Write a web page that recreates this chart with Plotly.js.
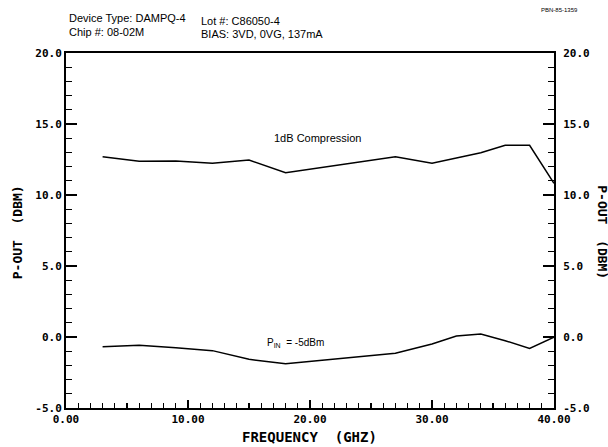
<!DOCTYPE html>
<html>
<head>
<meta charset="utf-8">
<script src="https://cdn.plot.ly/plotly-3.0.1.min.js"></script>
<style>html,body{margin:0;padding:0;background:#fff;}#chart{width:608px;height:447px;}</style>
</head>
<body>
<div id="chart"></div>
<script>
// Frequency (GHz)
const freqComp = [3, 6, 9, 12, 15, 18, 27, 30, 34, 36, 38, 40];
const pout1dB  = [12.70, 12.37, 12.39, 12.23, 12.46, 11.57, 12.70, 12.23, 12.98, 13.50, 13.50, 10.82];

const freqLin  = [3, 6, 9, 12, 15, 18, 27, 30, 32, 34, 36, 38, 40];
const poutLin  = [-0.68, -0.58, -0.75, -0.96, -1.57, -1.88, -1.15, -0.49, 0.07, 0.21, -0.26, -0.80, -0.02];

const yTicks = [-5, 0, 5, 10, 15, 20];
const xTicks = [0, 10, 20, 30, 40];

const monoBold = {family: 'DejaVu Sans Mono', size: 11, color: '#000', weight: 'bold'};
const sans = {family: 'Liberation Sans, Arial', size: 11, color: '#000'};

const traces = [
  {x: freqComp, y: pout1dB, type: 'scatter', mode: 'lines', line: {color: '#000', width: 1.5}, showlegend: false, hoverinfo: 'skip'},
  {x: freqLin, y: poutLin, type: 'scatter', mode: 'lines', line: {color: '#000', width: 1.5}, showlegend: false, hoverinfo: 'skip'},
  {x: freqLin, y: poutLin, yaxis: 'y2', type: 'scatter', mode: 'lines', line: {color: 'rgba(0,0,0,0)', width: 0}, showlegend: false, hoverinfo: 'skip'}
];

const layout = {
  width: 608, height: 447,
  margin: {l: 66, r: 54, t: 53, b: 39},
  paper_bgcolor: '#fff', plot_bgcolor: '#fff',
  showlegend: false,
  xaxis: {
    range: [0, 40], tickvals: xTicks, ticktext: xTicks.map(v => v.toFixed(2)),
    ticks: 'inside', ticklen: 8, tickwidth: 1.5, tickcolor: '#000',
    minor: {dtick: 1, ticks: 'inside', ticklen: 5, tickwidth: 1.2, tickcolor: '#000', showgrid: false},
    showline: true, linecolor: '#000', linewidth: 2, mirror: true,
    showgrid: false, zeroline: false, tickfont: monoBold
  },
  yaxis: {
    range: [-5, 20], tickvals: yTicks, ticktext: yTicks.map(v => v.toFixed(1)),
    ticks: 'inside', ticklen: 11, tickwidth: 1.5, tickcolor: '#000',
    minor: {dtick: 1, ticks: 'inside', ticklen: 6, tickwidth: 1.2, tickcolor: '#000', showgrid: false},
    showline: true, linecolor: '#000', linewidth: 2,
    showgrid: false, zeroline: false, tickfont: monoBold
  },
  yaxis2: {
    overlaying: 'y', side: 'right', anchor: 'x',
    range: [-5, 20], tickvals: yTicks, ticktext: yTicks.map(v => v.toFixed(1)),
    ticks: 'inside', ticklen: 11, tickwidth: 1.5, tickcolor: '#000',
    minor: {dtick: 1, ticks: 'inside', ticklen: 6, tickwidth: 1.2, tickcolor: '#000', showgrid: false},
    showline: true, linecolor: '#000', linewidth: 2, ticklabelstandoff: 5,
    showgrid: false, zeroline: false, tickfont: monoBold
  },
  annotations: [
    {text: 'Device Type: DAMPQ-4', xref: 'paper', yref: 'paper', x: 0, y: 1, xshift: 1, yshift: 35, xanchor: 'left', yanchor: 'middle', showarrow: false, font: sans},
    {text: 'Chip #: 08-02M', xref: 'paper', yref: 'paper', x: 0, y: 1, xshift: 1, yshift: 21, xanchor: 'left', yanchor: 'middle', showarrow: false, font: sans},
    {text: 'Lot #: C86050-4', xref: 'paper', yref: 'paper', x: 0, y: 1, xshift: 133, yshift: 32, xanchor: 'left', yanchor: 'middle', showarrow: false, font: sans},
    {text: 'BIAS: 3VD, 0VG, 137mA', xref: 'paper', yref: 'paper', x: 0, y: 1, xshift: 133, yshift: 19, xanchor: 'left', yanchor: 'middle', showarrow: false, font: sans},
    {text: 'PBN-85-1359', xref: 'paper', yref: 'paper', x: 1, y: 1, xshift: 26, yshift: 43, xanchor: 'right', yanchor: 'middle', showarrow: false, font: {family: 'Liberation Sans, Arial', size: 6, color: '#000'}},
    {text: '1dB Compression', xref: 'x', yref: 'y', x: 20.6, y: 14.0, xanchor: 'center', yanchor: 'middle', showarrow: false, font: sans},
    {text: 'P<sub>IN</sub>  = -5dBm', xref: 'x', yref: 'y', x: 18.8, y: -0.45, xanchor: 'center', yanchor: 'middle', showarrow: false, font: {family: 'Liberation Sans, Arial', size: 10, color: '#000'}},
    {text: 'FREQUENCY  (GHZ)', xref: 'paper', yref: 'paper', x: 0.498, y: 0, yshift: -29, xanchor: 'center', yanchor: 'middle', showarrow: false, font: {family: 'DejaVu Sans Mono', size: 14, color: '#000', weight: 'bold'}},
    {text: 'P-OUT  (DBM)', xref: 'paper', yref: 'paper', x: 0, y: 0.495, xshift: -49, textangle: -90, xanchor: 'center', yanchor: 'middle', showarrow: false, font: {family: 'DejaVu Sans Mono', size: 13, color: '#000', weight: 'bold'}},
    {text: 'P-OUT  (DBM)', xref: 'paper', yref: 'paper', x: 1, y: 0.495, xshift: 49, textangle: 90, xanchor: 'center', yanchor: 'middle', showarrow: false, font: {family: 'DejaVu Sans Mono', size: 13, color: '#000', weight: 'bold'}}
  ]
};

Plotly.newPlot('chart', traces, layout, {displayModeBar: false, staticPlot: true});
</script>
</body>
</html>
